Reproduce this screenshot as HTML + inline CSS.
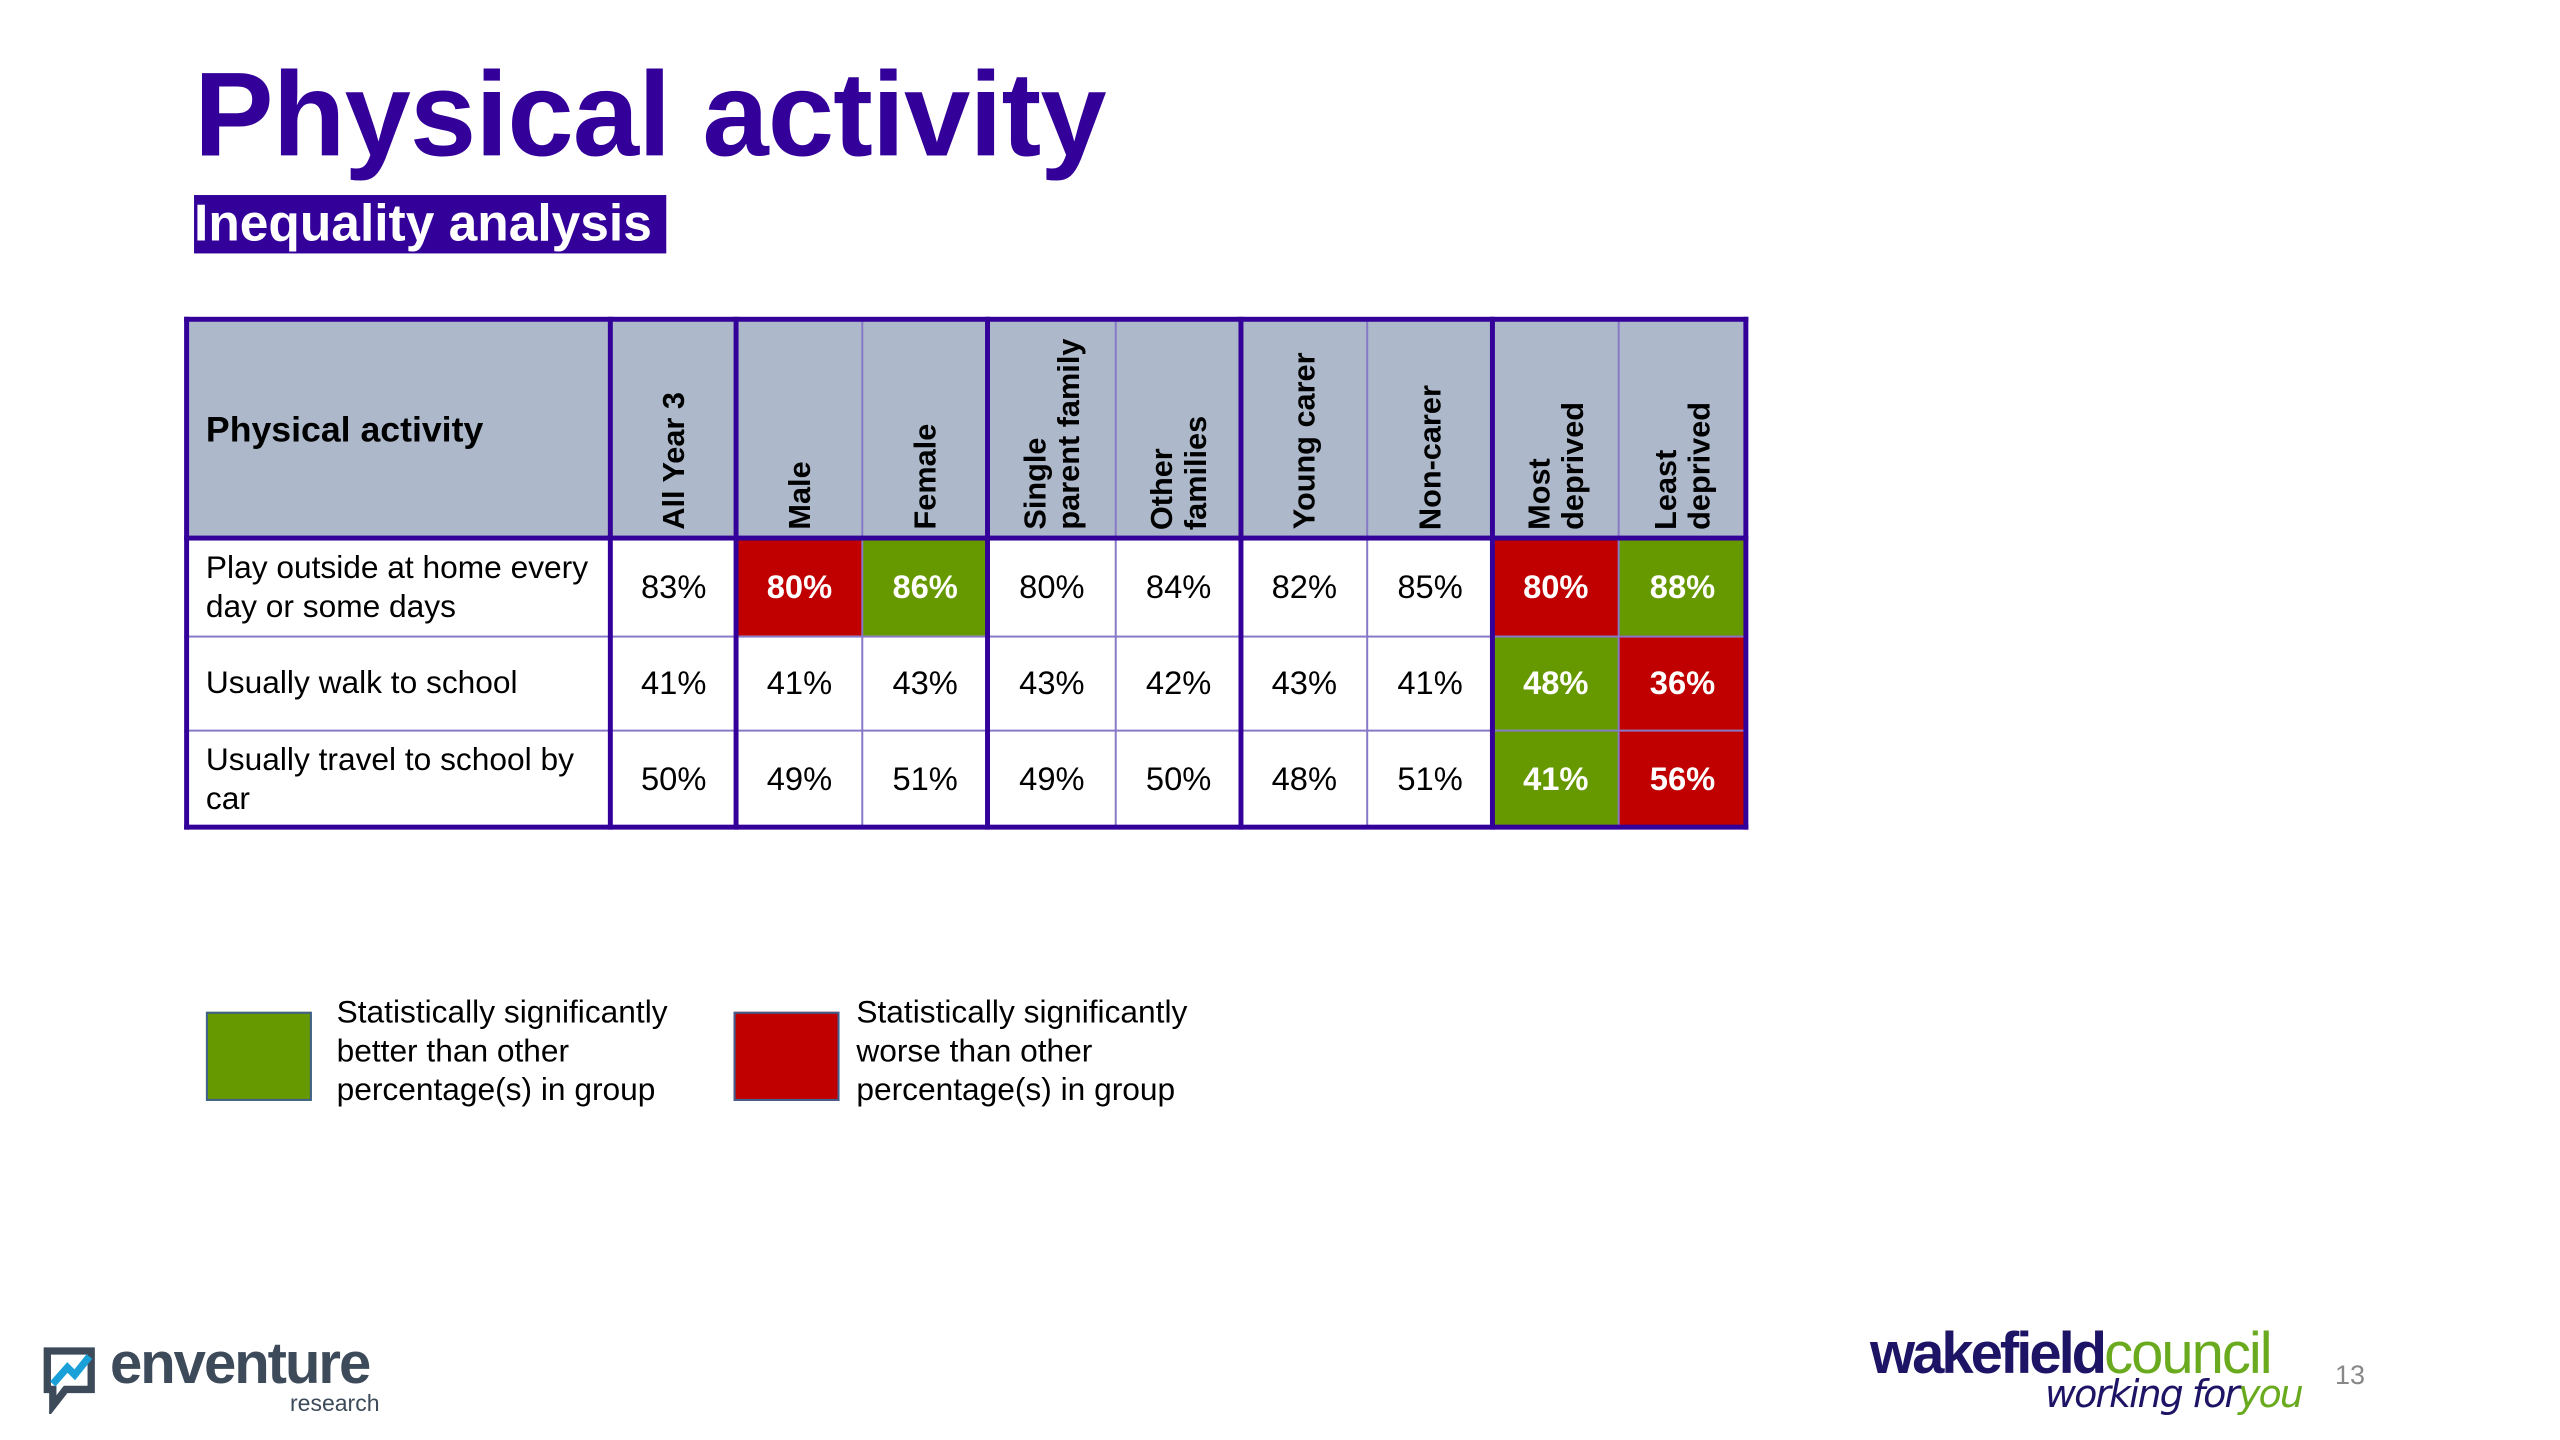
<!DOCTYPE html>
<html><head><meta charset="utf-8"><style>
body{margin:0;width:2560px;height:1440px;background:#fff;position:relative;overflow:hidden;font-family:"Liberation Sans",Arial,sans-serif;}
#w{position:absolute;left:0;top:0;width:2560px;height:1440px;transform:scale(0.99);transform-origin:0 0;}
.a{position:absolute;}
.title{left:196px;top:56px;font-size:120.5px;font-weight:bold;color:#330099;line-height:1;letter-spacing:-1px;}
.sub{left:196px;top:197px;width:477px;height:59px;background:#330099;color:#fff;font-weight:bold;font-size:52px;line-height:59px;}
.hdr{left:186px;top:322px;width:1578px;height:222px;background:#adb9ca;}
.c{position:absolute;display:flex;align-items:center;justify-content:center;font-size:33px;color:#000;}
.l{position:absolute;display:flex;align-items:center;font-size:32px;line-height:39px;color:#000;}
.w{color:#fff;font-weight:bold;}
.g{background:#669900;}
.r{background:#c00000;}
.v{position:absolute;top:330px;height:205px;display:flex;justify-content:center;align-items:flex-end;}
.v span{writing-mode:vertical-rl;transform:rotate(180deg);font-weight:bold;font-size:31px;line-height:34px;text-align:left;}
.vl{position:absolute;background:#330099;}
.tl{position:absolute;background:#8878c8;}
.leg{font-size:32px;line-height:39px;}
</style></head><body>
<div id="w">
<div class="a title">Physical activity</div>
<div class="a sub">Inequality analysis</div>

<div class="a hdr"></div>
<div class="c r w" style="left:744px;top:544px;width:127px;height:98px">80%</div>
<div class="c g w" style="left:871px;top:544px;width:127px;height:98px">86%</div>
<div class="c r w" style="left:1508px;top:544px;width:127px;height:98px">80%</div>
<div class="c g w" style="left:1635px;top:544px;width:129px;height:98px">88%</div>
<div class="c g w" style="left:1508px;top:642px;width:127px;height:95px">48%</div>
<div class="c r w" style="left:1635px;top:642px;width:129px;height:95px">36%</div>
<div class="c g w" style="left:1508px;top:737px;width:127px;height:99px">41%</div>
<div class="c r w" style="left:1635px;top:737px;width:129px;height:99px">56%</div>

<div class="tl" style="left:186px;top:642px;width:1578px;height:2px"></div>
<div class="tl" style="left:186px;top:737px;width:1578px;height:2px"></div>
<div class="tl" style="left:870px;top:322px;width:2px;height:514px"></div>
<div class="tl" style="left:1126px;top:322px;width:2px;height:514px"></div>
<div class="tl" style="left:1380px;top:322px;width:2px;height:514px"></div>
<div class="tl" style="left:1634px;top:322px;width:2px;height:514px"></div>
<div class="vl" style="left:186px;top:320px;width:1580px;height:5px"></div>
<div class="vl" style="left:186px;top:833px;width:1580px;height:5px"></div>
<div class="vl" style="left:186px;top:320px;width:5px;height:518px"></div>
<div class="vl" style="left:1761px;top:320px;width:5px;height:518px"></div>
<div class="vl" style="left:186px;top:541px;width:1580px;height:5px"></div>
<div class="vl" style="left:614px;top:320px;width:5px;height:518px"></div>
<div class="vl" style="left:741px;top:320px;width:5px;height:518px"></div>
<div class="vl" style="left:995px;top:320px;width:5px;height:518px"></div>
<div class="vl" style="left:1251px;top:320px;width:5px;height:518px"></div>
<div class="vl" style="left:1505px;top:320px;width:5px;height:518px"></div>

<div class="l" style="left:208px;top:322px;height:222px;font-weight:bold;font-size:36px">Physical activity</div>
<div class="v" style="left:617px;width:127px"><span>All Year 3</span></div>
<div class="v" style="left:744px;width:127px"><span>Male</span></div>
<div class="v" style="left:871px;width:127px"><span>Female</span></div>
<div class="v" style="left:998px;width:129px"><span>Single<br>parent family</span></div>
<div class="v" style="left:1127px;width:127px"><span>Other<br>families</span></div>
<div class="v" style="left:1254px;width:127px"><span>Young carer</span></div>
<div class="v" style="left:1381px;width:127px"><span>Non-carer</span></div>
<div class="v" style="left:1508px;width:127px"><span>Most<br>deprived</span></div>
<div class="v" style="left:1635px;width:129px"><span>Least<br>deprived</span></div>

<div class="l" style="left:208px;top:544px;height:98px">Play outside at home every<br>day or some days</div>
<div class="l" style="left:208px;top:642px;height:95px">Usually walk to school</div>
<div class="l" style="left:208px;top:737px;height:99px">Usually travel to school by<br>car</div>

<div class="c" style="left:617px;top:544px;width:127px;height:98px">83%</div>
<div class="c" style="left:998px;top:544px;width:129px;height:98px">80%</div>
<div class="c" style="left:1127px;top:544px;width:127px;height:98px">84%</div>
<div class="c" style="left:1254px;top:544px;width:127px;height:98px">82%</div>
<div class="c" style="left:1381px;top:544px;width:127px;height:98px">85%</div>
<div class="c" style="left:617px;top:642px;width:127px;height:95px">41%</div>
<div class="c" style="left:744px;top:642px;width:127px;height:95px">41%</div>
<div class="c" style="left:871px;top:642px;width:127px;height:95px">43%</div>
<div class="c" style="left:998px;top:642px;width:129px;height:95px">43%</div>
<div class="c" style="left:1127px;top:642px;width:127px;height:95px">42%</div>
<div class="c" style="left:1254px;top:642px;width:127px;height:95px">43%</div>
<div class="c" style="left:1381px;top:642px;width:127px;height:95px">41%</div>
<div class="c" style="left:617px;top:737px;width:127px;height:99px">50%</div>
<div class="c" style="left:744px;top:737px;width:127px;height:99px">49%</div>
<div class="c" style="left:871px;top:737px;width:127px;height:99px">51%</div>
<div class="c" style="left:998px;top:737px;width:129px;height:99px">49%</div>
<div class="c" style="left:1127px;top:737px;width:127px;height:99px">50%</div>
<div class="c" style="left:1254px;top:737px;width:127px;height:99px">48%</div>
<div class="c" style="left:1381px;top:737px;width:127px;height:99px">51%</div>

<div class="a" style="left:208px;top:1022px;width:103px;height:86px;background:#669900;border:2px solid #3f5f8f"></div>
<div class="a leg" style="left:340px;top:1003px">Statistically significantly<br>better than other<br>percentage(s) in group</div>
<div class="a" style="left:741px;top:1022px;width:103px;height:86px;background:#c00000;border:2px solid #3f5f8f"></div>
<div class="a leg" style="left:865px;top:1003px">Statistically significantly<br>worse than other<br>percentage(s) in group</div>
</div>

<svg class="a" style="left:40px;top:1342px" width="64" height="72" viewBox="0 0 70 75">
<path d="M14 8 H56 V50 H28 L14 68 V50 H8 V8 Z" fill="none" stroke="#3d4a5a" stroke-width="8"/>
<path d="M14 44 L30 26 L38 34 L54 14" fill="none" stroke="#1aa0d8" stroke-width="8"/>
</svg>
<div class="a" style="left:110px;top:1330px;font-size:58px;font-weight:bold;color:#3d4a5a;letter-spacing:-2px">enventure</div>
<div class="a" style="left:290px;top:1390px;font-size:23px;color:#3d4a5a">research</div>

<div class="a" style="left:1870px;top:1320px;font-size:58px;font-weight:bold;color:#1e1466;letter-spacing:-3px">wakefield<span style="color:#6aaa1f;font-weight:normal;letter-spacing:-2px">council</span></div>
<div class="a" style="left:2045px;top:1372px;font-size:38px;font-style:italic;color:#1e1466;font-family:'DejaVu Sans',sans-serif;letter-spacing:-2px">working for<span style="color:#6aaa1f">you</span></div>
<div class="a" style="left:2335px;top:1360px;font-size:27px;color:#888">13</div>
</body></html>
